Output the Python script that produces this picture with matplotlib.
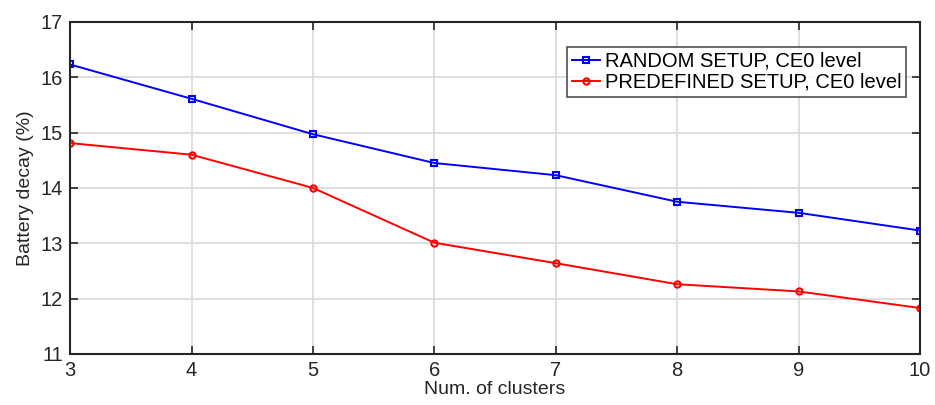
import matplotlib
matplotlib.use("Agg")
import matplotlib.pyplot as plt

plt.rcParams['font.family'] = ['Liberation Sans', 'DejaVu Sans']

clusters = [3, 4, 5, 6, 7, 8, 9, 10]
random_setup = [16.23, 15.61, 14.97, 14.45, 14.23, 13.75, 13.55, 13.23]
predefined_setup = [14.81, 14.60, 14.00, 13.01, 12.64, 12.26, 12.13, 11.83]
labels = ["RANDOM SETUP, CE0 level", "PREDEFINED SETUP, CE0 level"]

fig = plt.figure(figsize=(9.35, 4.05), dpi=100)
ax = fig.add_axes([0.075, 0.126, 0.909, 0.820])

ax.plot(clusters, random_setup, color='#0000ff', lw=1.4, marker='s', ms=4,
        mfc='none', mew=1.5, label=labels[0])
ax.plot(clusters, predefined_setup, color='#ff0000', lw=1.4, marker='o', ms=4.5,
        mfc='none', mew=1.5, label=labels[1])

ax.set_xlim(3, 10)
ax.set_ylim(11, 17)
ax.set_xticks(clusters)
ax.set_yticks(range(11, 18))
ax.grid(True, color='#d9d9d9', lw=1.2)
ax.set_axisbelow(True)
ax.tick_params(direction='in', top=True, right=True, labelsize=14.5, length=6,
               width=1.2, colors='#262626', pad=5)
for s in ax.spines.values():
    s.set_color('#262626')
    s.set_linewidth(1.5)

ax.set_xlabel("Num. of clusters", fontsize=14, color='#262626', labelpad=1)
ax.set_ylabel("Battery decay (%)", fontsize=14, color='#262626', labelpad=5)

leg = ax.legend(loc='upper right', bbox_to_anchor=(0.984, 0.925), fontsize=14.5,
                frameon=True, fancybox=False, edgecolor='#262626',
                handlelength=1.4, handletextpad=0.25, borderpad=0.25,
                labelspacing=0.1, borderaxespad=0)
leg.get_frame().set_linewidth(1.2)

fig.savefig("out.png", dpi=100, facecolor='white')
